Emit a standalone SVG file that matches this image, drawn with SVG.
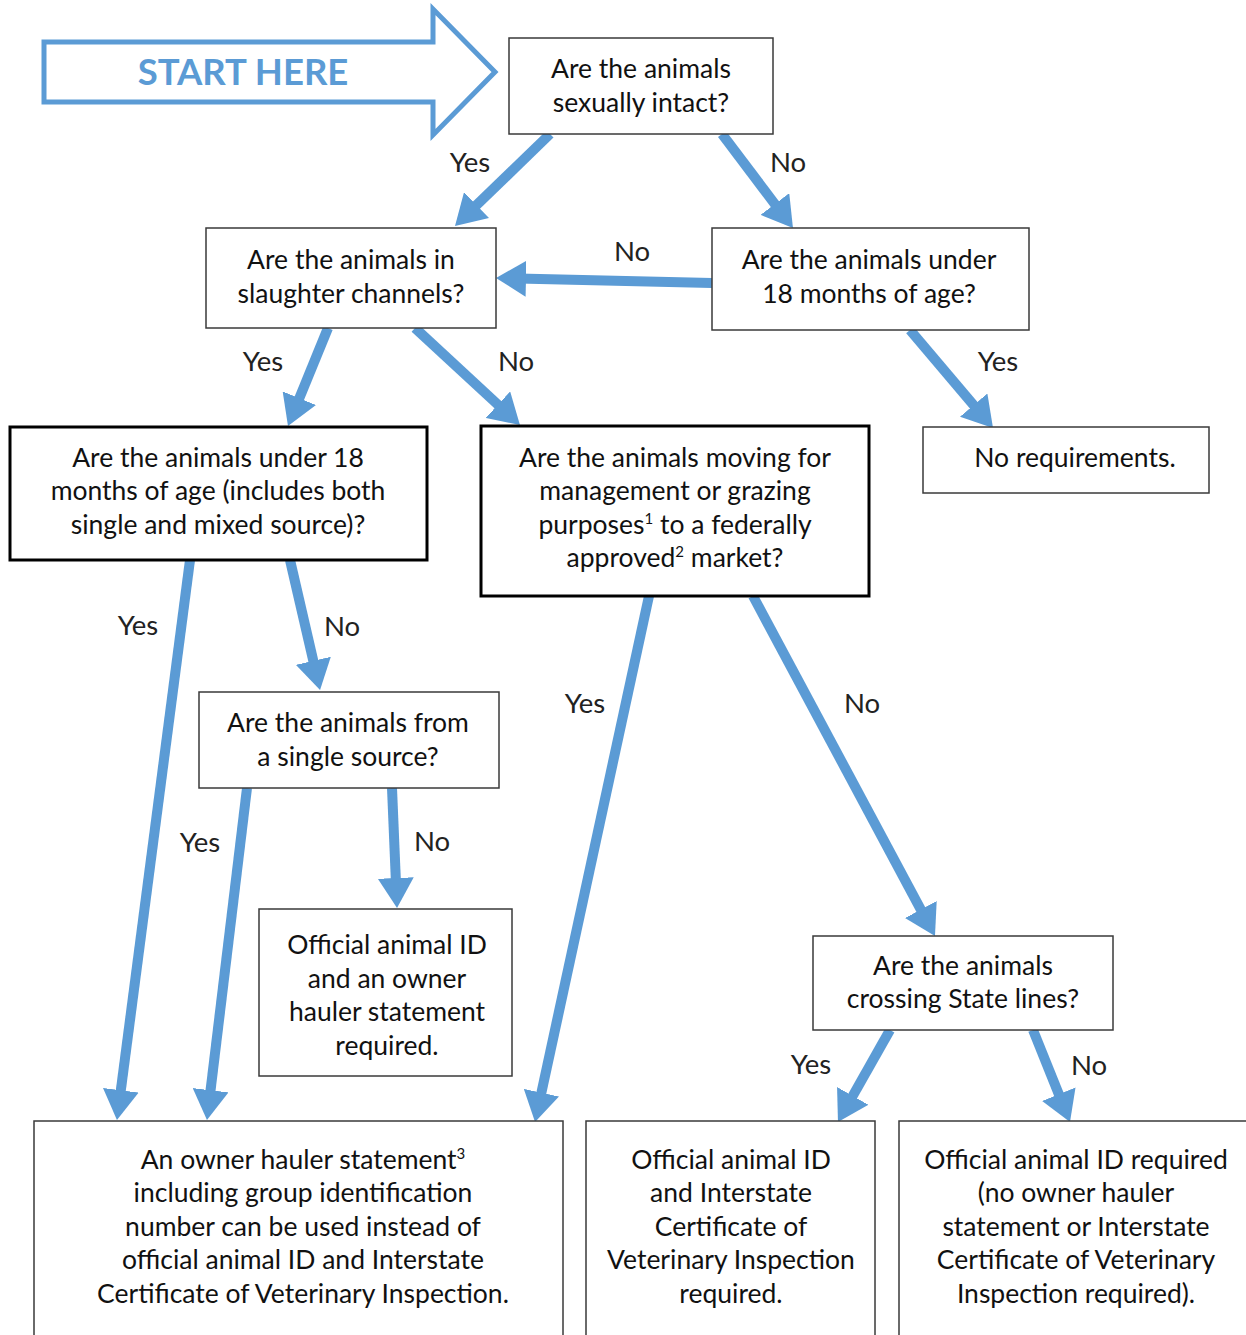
<svg xmlns="http://www.w3.org/2000/svg" width="1246" height="1335" viewBox="0 0 1246 1335">
<defs>
<style>
.t{font-family:Lato,"Liberation Sans",sans-serif;font-size:26.5px;fill:#111;text-anchor:middle}
.l{font-family:Lato,"Liberation Sans",sans-serif;font-size:27.5px;fill:#222;text-anchor:middle}
.sup{font-size:15px}
.thin{fill:#fff;stroke:#3a3a3a;stroke-width:1.5}
.thick{fill:#fff;stroke:#000;stroke-width:3}
.c{stroke:#5b9bd5;stroke-width:10;fill:none;marker-end:url(#ah)}
</style>
<marker id="ah" viewBox="0 0 30 36" markerWidth="30" markerHeight="36" markerUnits="userSpaceOnUse" refX="8" refY="18" orient="auto">
<path d="M0,0 L30,18 L0,36 z" fill="#5b9bd5"/>
</marker>
</defs>
<rect width="1246" height="1335" fill="#fff"/>
<g id="start">
<polygon points="44,42 433,42 433,9 495,72 433,135 433,102 44,102" fill="#fff" stroke="#5b9bd5" stroke-width="5"/>
<text x="243" y="85" style="font-family:Lato,'Liberation Sans',sans-serif;font-weight:bold;font-size:36.5px;fill:#5b9bd5;text-anchor:middle">START HERE</text>
</g>
<g id="connectors">
<line class="c" x1="550" y1="134" x2="470.8" y2="210.7"/>
<line class="c" x1="722" y1="134" x2="779.7" y2="210.4"/>
<line class="c" x1="712" y1="283" x2="518" y2="278.5"/>
<line class="c" x1="328" y1="328" x2="296.3" y2="405.6"/>
<line class="c" x1="415" y1="328" x2="503.8" y2="410.1"/>
<line class="c" x1="910" y1="330" x2="978.8" y2="411.2"/>
<line class="c" x1="190" y1="560" x2="119.8" y2="1098.2"/>
<line class="c" x1="290" y1="560" x2="315.1" y2="668.6"/>
<line class="c" x1="247" y1="788" x2="209.6" y2="1098.2"/>
<line class="c" x1="392" y1="788" x2="396.1" y2="886"/>
<line class="c" x1="649" y1="596" x2="539.7" y2="1100.5"/>
<line class="c" x1="753" y1="596" x2="924.6" y2="916.6"/>
<line class="c" x1="890" y1="1030" x2="848.8" y2="1102.9"/>
<line class="c" x1="1033" y1="1030" x2="1061.8" y2="1101.6"/>
</g>
<g id="labels">
<text class="l" x="470" y="172">Yes</text>
<text class="l" x="788" y="172">No</text>
<text class="l" x="632" y="261">No</text>
<text class="l" x="263" y="371">Yes</text>
<text class="l" x="516" y="371">No</text>
<text class="l" x="998" y="371">Yes</text>
<text class="l" x="138" y="635">Yes</text>
<text class="l" x="342" y="636">No</text>
<text class="l" x="585" y="713">Yes</text>
<text class="l" x="862" y="713">No</text>
<text class="l" x="200" y="852">Yes</text>
<text class="l" x="432" y="851">No</text>
<text class="l" x="811" y="1074">Yes</text>
<text class="l" x="1089" y="1075">No</text>
</g>
<g id="n1">
<rect class="thin" x="509" y="38" width="264" height="96"/>
<text class="t" x="641" y="78">Are the animals</text>
<text class="t" x="641" y="112">sexually intact?</text>
</g>
<g id="n2">
<rect class="thin" x="206" y="228" width="290" height="100"/>
<text class="t" x="351" y="269">Are the animals in</text>
<text class="t" x="351" y="303">slaughter channels?</text>
</g>
<g id="n3">
<rect class="thin" x="712" y="228" width="317" height="102"/>
<text class="t" x="869" y="269">Are the animals under</text>
<text class="t" x="869" y="303">18 months of age?</text>
</g>
<g id="n4">
<rect class="thick" x="10" y="427" width="417" height="133"/>
<text class="t" x="218" y="467">Are the animals under 18</text>
<text class="t" x="218" y="500">months of age (includes both</text>
<text class="t" x="218" y="534">single and mixed source)?</text>
</g>
<g id="n5">
<rect class="thick" x="481" y="426" width="388" height="170"/>
<text class="t" x="675" y="467">Are the animals moving for</text>
<text class="t" x="675" y="500">management or grazing</text>
<text class="t" x="675" y="534">purposes<tspan class="sup" dy="-10">1</tspan><tspan dy="10"> to a federally</tspan></text>
<text class="t" x="675" y="567">approved<tspan class="sup" dy="-10">2</tspan><tspan dy="10"> market?</tspan></text>
</g>
<g id="n6">
<rect class="thin" x="923" y="427" width="286" height="66"/>
<text class="t" x="1075" y="467">No requirements.</text>
</g>
<g id="n7">
<rect class="thin" x="199" y="692" width="300" height="96"/>
<text class="t" x="348" y="732">Are the animals from</text>
<text class="t" x="348" y="766">a single source?</text>
</g>
<g id="n8">
<rect class="thin" x="259" y="909" width="253" height="167"/>
<text class="t" x="387" y="954">Official animal ID</text>
<text class="t" x="387" y="988">and an owner</text>
<text class="t" x="387" y="1021">hauler statement</text>
<text class="t" x="387" y="1055">required.</text>
</g>
<g id="n9">
<rect class="thin" x="813" y="936" width="300" height="94"/>
<text class="t" x="963" y="975">Are the animals</text>
<text class="t" x="963" y="1008">crossing State lines?</text>
</g>
<g id="n10">
<rect class="thin" x="34" y="1121" width="529" height="230"/>
<text class="t" x="303" y="1169">An owner hauler statement<tspan class="sup" dy="-10">3</tspan></text>
<text class="t" x="303" y="1202">including group identification</text>
<text class="t" x="303" y="1236">number can be used instead of</text>
<text class="t" x="303" y="1269">official animal ID and Interstate</text>
<text class="t" x="303" y="1303">Certificate of Veterinary Inspection.</text>
</g>
<g id="n11">
<rect class="thin" x="586" y="1121" width="289" height="230"/>
<text class="t" x="731" y="1169">Official animal ID</text>
<text class="t" x="731" y="1202">and Interstate</text>
<text class="t" x="731" y="1236">Certificate of</text>
<text class="t" x="731" y="1269">Veterinary Inspection</text>
<text class="t" x="731" y="1303">required.</text>
</g>
<g id="n12">
<rect class="thin" x="899" y="1121" width="360" height="230"/>
<text class="t" x="1076" y="1169">Official animal ID required</text>
<text class="t" x="1076" y="1202">(no owner hauler</text>
<text class="t" x="1076" y="1236">statement or Interstate</text>
<text class="t" x="1076" y="1269">Certificate of Veterinary</text>
<text class="t" x="1076" y="1303">Inspection required).</text>
</g>
</svg>
